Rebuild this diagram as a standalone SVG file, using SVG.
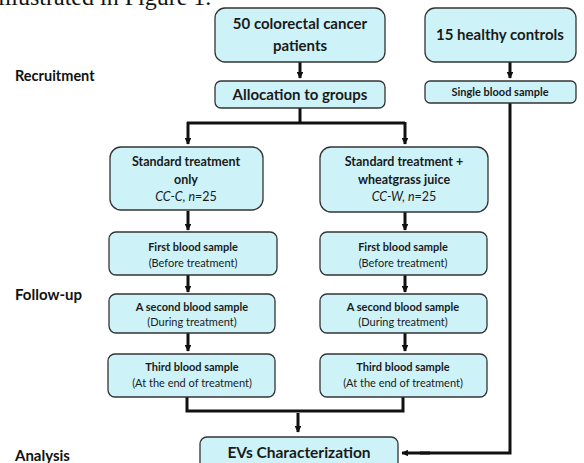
<svg xmlns="http://www.w3.org/2000/svg" width="584" height="463" viewBox="0 0 584 463">
<defs>
<marker id="ah" viewBox="0 0 10 10" refX="9" refY="5" markerWidth="2.2" markerHeight="2.2" orient="auto" markerUnits="strokeWidth">
<path d="M0,0 L10,5 L0,10 z" fill="#111"/>
</marker>
</defs>
<style>
.box{fill:#cdf3f9;stroke:#333;stroke-width:1.3}
.t{font-family:Lato,"Open Sans","Liberation Sans",sans-serif;fill:#1a1a1a;text-anchor:middle}
.b{font-weight:bold}
.lbl{font-family:Lato,"Open Sans","Liberation Sans",sans-serif;font-weight:bold;fill:#111}
.c{fill:none;stroke:#111;stroke-width:3}
.ca{fill:none;stroke:#111;stroke-width:3;marker-end:url(#ah)}
</style>
<rect width="584" height="463" fill="#fff"/>
<text x="-2" y="5" font-family="Liberation Serif,serif" font-size="24" fill="#111">illustrated in Figure 1.</text>
<g id="labels">
<text class="lbl" x="15" y="81" font-size="14.5">Recruitment</text>
<text class="lbl" x="15" y="300" font-size="15">Follow-up</text>
<text class="lbl" x="15" y="461" font-size="15">Analysis</text>
</g>
<g id="connectors">
<path class="ca" d="M300,62 V78"/>
<path class="ca" d="M510,62 V78"/>
<path class="c" d="M300,108 V123"/>
<path class="c" d="M187,123 H405"/>
<path class="ca" d="M188,122 V144"/>
<path class="ca" d="M405,122 V144"/>
<path class="c" d="M510,103 V453 H420"/>
<path class="ca" d="M430,453 H402"/>
<path class="ca" d="M188,211 V230"/>
<path class="ca" d="M405,212 V230"/>
<path class="ca" d="M188,275 V292"/>
<path class="ca" d="M405,275 V292"/>
<path class="ca" d="M188,333 V351"/>
<path class="ca" d="M405,333 V351"/>
<path class="c" d="M187,397 V411 H403 V397"/>
<path class="ca" d="M298,413 V432"/>
</g>
<g id="n1">
<rect class="box" x="215" y="8" width="170" height="54" rx="10"/>
<text class="t b" x="300" y="29" font-size="15">50 colorectal cancer</text>
<text class="t b" x="300" y="51" font-size="15">patients</text>
</g>
<g id="n2">
<rect class="box" x="425" y="8" width="151" height="54" rx="10"/>
<text class="t b" x="500" y="40" font-size="15">15 healthy controls</text>
</g>
<g id="n3">
<rect class="box" x="215" y="81" width="170" height="27" rx="6"/>
<text class="t b" x="300" y="100" font-size="15">Allocation to groups</text>
</g>
<g id="n4">
<rect class="box" x="425" y="81" width="151" height="22" rx="5"/>
<text class="t b" x="500" y="96" font-size="11">Single blood sample</text>
</g>
<g id="n5">
<rect class="box" x="110" y="147" width="153" height="63" rx="11"/>
<text class="t b" x="186" y="166" font-size="12.5">Standard treatment</text>
<text class="t b" x="186" y="184" font-size="12.5">only</text>
<text class="t" x="186" y="201" font-size="12.5" font-style="italic">CC-C, <tspan>n</tspan><tspan font-style="normal">=25</tspan></text>
</g>
<g id="n6">
<rect class="box" x="320" y="147" width="168" height="65" rx="11"/>
<text class="t b" x="404" y="166" font-size="12.5">Standard treatment +</text>
<text class="t b" x="404" y="184" font-size="12.5">wheatgrass juice</text>
<text class="t" x="404" y="201" font-size="12.5" font-style="italic">CC-W, <tspan>n</tspan><tspan font-style="normal">=25</tspan></text>
</g>
<g id="n7">
<rect class="box" x="109" y="232" width="168" height="43" rx="7"/>
<text class="t b" x="193" y="251" font-size="11">First blood sample</text>
<text class="t" x="193" y="267" font-size="11">(Before treatment)</text>
</g>
<g id="n8">
<rect class="box" x="320" y="232" width="167" height="43" rx="7"/>
<text class="t b" x="403" y="251" font-size="11">First blood sample</text>
<text class="t" x="403" y="267" font-size="11">(Before treatment)</text>
</g>
<g id="n9">
<rect class="box" x="109" y="294" width="166" height="39" rx="7"/>
<text class="t b" x="192" y="311" font-size="11">A second blood sample</text>
<text class="t" x="192" y="326" font-size="11">(During treatment)</text>
</g>
<g id="n10">
<rect class="box" x="320" y="294" width="167" height="39" rx="7"/>
<text class="t b" x="403" y="311" font-size="11">A second blood sample</text>
<text class="t" x="403" y="326" font-size="11">(During treatment)</text>
</g>
<g id="n11">
<rect class="box" x="108" y="354" width="167" height="43" rx="7"/>
<text class="t b" x="192" y="371" font-size="11">Third blood sample</text>
<text class="t" x="192" y="387" font-size="11">(At the end of treatment)</text>
</g>
<g id="n12">
<rect class="box" x="320" y="354" width="167" height="43" rx="7"/>
<text class="t b" x="403" y="371" font-size="11">Third blood sample</text>
<text class="t" x="403" y="387" font-size="11">(At the end of treatment)</text>
</g>
<g id="n13">
<rect class="box" x="200" y="437" width="198" height="36" rx="7"/>
<text class="t b" x="299" y="458" font-size="15.5">EVs Characterization</text>
</g>
</svg>
